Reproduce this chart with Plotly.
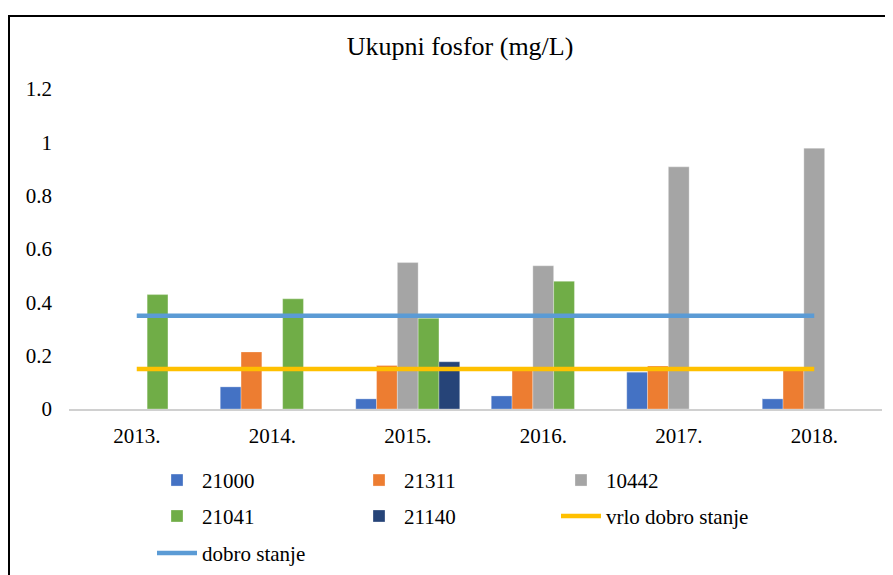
import plotly.graph_objects as go

years = ["2013.", "2014.", "2015.", "2016.", "2017.", "2018."]
v21000 = [None, 0.083, 0.038, 0.049, 0.138, 0.038]
v21311 = [None, 0.214, 0.163, 0.150, 0.161, 0.150]
v10442 = [None, None, 0.549, 0.537, 0.908, 0.978]
v21041 = [0.429, 0.413, 0.340, 0.479, None, None]
v21140 = [None, None, 0.177, None, None, None]
vrlo_dobro = [0.15, 0.15, 0.15, 0.15, 0.15, 0.15]
dobro = [0.35, 0.35, 0.35, 0.35, 0.35, 0.35]

bar_series = [
    ("21000", v21000, "#4472C4", "legend"),
    ("21311", v21311, "#ED7D31", "legend"),
    ("10442", v10442, "#A5A5A5", "legend"),
    ("21041", v21041, "#70AD47", "legend2"),
    ("21140", v21140, "#264478", "legend2"),
]
line_series = [
    ("vrlo dobro stanje", vrlo_dobro, "#FFC000", "legend2"),
    ("dobro stanje", dobro, "#5B9BD5", "legend3"),
]

FONT = "Liberation Serif"

fig = go.Figure()
for name, vals, color, lg in bar_series:
    fig.add_trace(go.Bar(
        x=years, y=vals, name=name, legend=lg,
        marker=dict(color=color, line=dict(color="rgba(255,255,255,0.6)", width=0.5)),
    ))
for name, vals, color, lg in line_series:
    fig.add_trace(go.Scatter(
        x=years, y=vals, name=name, legend=lg, mode="lines",
        line=dict(color=color, width=4.5),
    ))

# page offset introduced by the default body margin of the html page
OFF = 8
W, H = 893, 575
# target positions in page pixels
PL, PR, PT, PB = 69, 882, 89, 409.5
L = PL - OFF
R = W - (PR - OFF)
T = PT - OFF
B = H - (PB - OFF)
pw = PR - PL
ph = PB - PT

def px(xp):
    return (xp - PL) / pw

def py(yp):
    return (PB - yp) / ph

leg_common = dict(orientation="h", xanchor="left", yanchor="middle",
                  font=dict(family=FONT, size=21, color="black"),
                  itemwidth=40,
                  entrywidth=147, entrywidthmode="pixels",
                  bgcolor="rgba(0,0,0,0)", traceorder="normal")

fig.update_layout(
    width=W, height=H,
    margin=dict(l=L, r=R, t=T, b=B, autoexpand=False),
    paper_bgcolor="white", plot_bgcolor="white",
    barmode="group", bargap=0.2325, bargroupgap=0,
    font=dict(family=FONT, size=21, color="black"),
    title=dict(text="Ukupni fosfor (mg/L)", x=(460 - OFF) / W, xanchor="center",
               y=1 - (46 - OFF) / H, yanchor="middle", xref="container", yref="container",
               font=dict(family=FONT, size=26, color="black")),
    xaxis=dict(showline=True, linecolor="#D0D0D0", linewidth=2, showgrid=False,
               ticks="", tickfont=dict(family=FONT, size=21, color="black"),
               ticklabelstandoff=7, zeroline=False, automargin=False),
    yaxis=dict(range=[0, 1.2], dtick=0.2, showgrid=False, showline=False, zeroline=False,
               ticks="", tickfont=dict(family=FONT, size=21, color="black"),
               ticklabelstandoff=16, automargin=False),
    legend=dict(x=px(152), y=py(481), **leg_common),
    legend2=dict(x=px(152), y=py(517), **leg_common),
    legend3=dict(x=px(152), y=py(554), **leg_common),
    shapes=[dict(type="rect", xref="paper", yref="paper",
                 x0=px(9), x1=px(920), y0=py(600), y1=py(16),
                 line=dict(color="black", width=2), fillcolor="rgba(0,0,0,0)",
                 layer="below")],
)

fig.write_html("out.html")
